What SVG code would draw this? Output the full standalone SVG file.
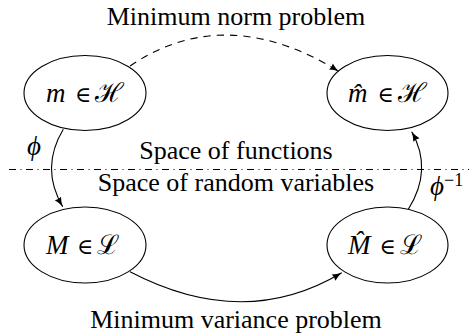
<svg xmlns="http://www.w3.org/2000/svg" width="469" height="334" viewBox="0 0 469 334">
<defs>
<style>
.node ellipse{fill:none;stroke:#000;stroke-width:1.1}
.edge{fill:none;stroke:#000;stroke-width:1.1}
</style>
<marker id="arr" markerUnits="userSpaceOnUse" markerWidth="12" markerHeight="10" viewBox="0 0 12 10" refX="10" refY="5" orient="auto">
<path d="M0.5,1.4 Q5,4 10,5 Q5,6 0.5,8.6 Q2,5 0.5,1.4 Z" fill="#000"/>
</marker>
</defs>
<rect width="469" height="334" fill="#fff"/>
<g id="labels" font-family="Liberation Serif" font-size="26" text-anchor="middle" fill="#000">
<text x="236" y="25">Minimum norm problem</text>
<text x="236" y="159">Space of functions</text>
<text x="236" y="191">Space of random variables</text>
<text x="236" y="328">Minimum variance problem</text>
</g>
<g id="separator">
<line x1="9" y1="169.5" x2="470" y2="169.5" stroke="#000" stroke-width="1" stroke-dasharray="7 4.5 1 4.5"/>
</g>
<g id="nodes" font-family="Liberation Serif" font-size="27" fill="#000">
<g id="node-m" class="node">
<ellipse cx="85" cy="93" rx="61" ry="37.5"/>
<text y="102"><tspan font-style="italic" x="46">m</tspan><tspan x="75" font-family="DejaVu Serif" font-size="22">∈</tspan><tspan x="95">ℋ</tspan></text>
</g>
<g id="node-mhat" class="node">
<ellipse cx="387.5" cy="93" rx="60.5" ry="37.5"/>
<text y="102"><tspan font-style="italic" x="348">m̂</tspan><tspan x="377.5" font-family="DejaVu Serif" font-size="22">∈</tspan><tspan x="397.5">ℋ</tspan></text>
</g>
<g id="node-M" class="node">
<ellipse cx="85" cy="245" rx="61" ry="38"/>
<text y="254"><tspan font-style="italic" x="46">M</tspan><tspan x="77" font-family="DejaVu Serif" font-size="22">∈</tspan><tspan x="97">ℒ</tspan></text>
</g>
<g id="node-Mhat" class="node">
<ellipse cx="387.5" cy="245" rx="60.5" ry="38"/>
<text y="254"><tspan font-style="italic" x="348">M̂</tspan><tspan x="379.5" font-family="DejaVu Serif" font-size="22">∈</tspan><tspan x="399.5">ℒ</tspan></text>
</g>
</g>
<g id="connectors">
<path class="edge" d="M130,66 Q225.5,1.5 339,71.5" stroke-dasharray="7.3 6" marker-end="url(#arr)"/>
<path class="edge" d="M63.3,129.3 Q40,168 62.7,206.7" marker-end="url(#arr)"/>
<path class="edge" d="M408.3,209.3 Q433.2,169.5 411.7,131.7" marker-end="url(#arr)"/>
<path class="edge" d="M130,271.7 Q244,331.2 341.7,272.7" marker-end="url(#arr)"/>
</g>
<g id="edge-labels" font-family="Liberation Serif" font-size="27" fill="#000">
<text x="27" y="155" font-style="italic">ϕ</text>
<text x="430" y="195"><tspan font-style="italic">ϕ</tspan><tspan dy="-9" font-size="18">−1</tspan></text>
</g>
</svg>
